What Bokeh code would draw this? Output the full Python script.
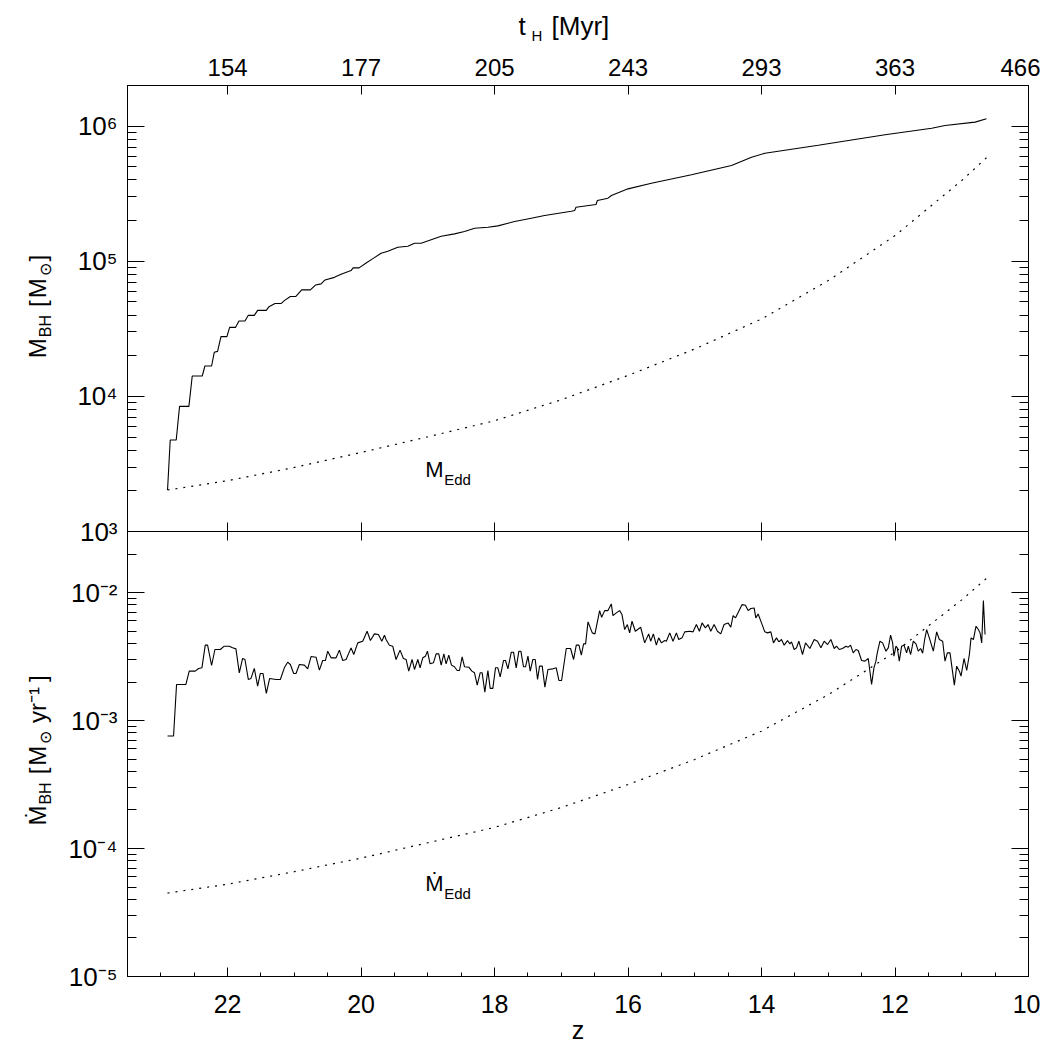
import numpy as np
from bokeh.plotting import figure
from bokeh.models import Range1d, FixedTicker, LogAxis, LinearAxis, CustomJSTickFormatter
from bokeh.layouts import row, column
from bokeh.core.properties import value
from bokeh.embed import file_html
from bokeh.resources import INLINE

FONT = "Liberation Sans"

# ---------------- data ----------------
# Black-hole mass (top panel): redshift and log10(M_BH / Msun)
z_mbh = [22.90, 22.86, 22.77, 22.72, 22.58, 22.53, 22.38, 22.34, 22.24, 22.20,
         22.15, 22.10, 22.01, 21.97, 21.88, 21.83, 21.74, 21.69, 21.60, 21.55,
         21.42, 21.38, 21.29, 21.20, 21.15, 21.06, 20.98, 20.89, 20.76, 20.68,
         20.60, 20.54, 20.40, 20.30, 20.15, 20.12, 20.03, 19.93, 19.83, 19.70,
         19.60, 19.45, 19.30, 19.20, 19.10, 18.80, 18.60, 18.45, 18.30, 18.10,
         17.95, 17.70, 17.45, 17.25, 16.85, 16.80, 16.78, 16.48, 16.46, 16.30,
         16.25, 16.00, 15.65, 15.05, 14.45, 14.15, 13.95, 13.15, 12.15, 11.45,
         11.25, 10.80, 10.63]
log_mbh = [3.307, 3.677, 3.677, 3.926, 3.926, 4.151, 4.151, 4.225, 4.225, 4.326,
           4.333, 4.442, 4.442, 4.511, 4.511, 4.558, 4.558, 4.600, 4.600, 4.637,
           4.637, 4.664, 4.687, 4.687, 4.709, 4.739, 4.739, 4.788, 4.788, 4.825,
           4.833, 4.862, 4.881, 4.904, 4.931, 4.951, 4.951, 4.985, 5.018, 5.059,
           5.074, 5.104, 5.111, 5.133, 5.133, 5.185, 5.203, 5.220, 5.244, 5.252,
           5.262, 5.294, 5.319, 5.339, 5.370, 5.376, 5.400, 5.420, 5.450, 5.467,
           5.487, 5.536, 5.578, 5.640, 5.709, 5.770, 5.800, 5.859, 5.936, 5.985,
           6.005, 6.030, 6.055]

# Eddington-limited curves (dotted)
z_edd = [22.9, 22.0, 21.0, 20.0, 19.0, 18.0, 17.0, 16.0, 15.0, 14.0, 13.0, 12.0, 11.0, 10.63]
log_medd = [3.307, 3.376, 3.474, 3.585, 3.701, 3.820, 3.975, 4.155, 4.351, 4.573,
            4.857, 5.190, 5.598, 5.766]
log_mdot_edd = [-4.348, -4.279, -4.181, -4.075, -3.955, -3.835, -3.680, -3.500, -3.304,
                -3.082, -2.798, -2.465, -2.057, -1.889]

# Accretion rate (bottom panel): redshift and log10(Mdot / Msun yr^-1)
z_mdot = [
    22.90, 22.81, 22.765, 22.625, 22.575, 22.485, 22.435, 22.385, 22.335, 22.30,
    22.24, 22.19, 22.11, 22.05, 21.975, 21.925, 21.875, 21.825, 21.775, 21.74,
    21.69, 21.65, 21.60, 21.55, 21.51, 21.47, 21.42, 21.37, 21.275, 21.21,
    21.15, 21.10, 21.06, 21.01, 20.975, 20.925, 20.85, 20.80, 20.75, 20.675,
    20.625, 20.575, 20.535, 20.50, 20.45, 20.375, 20.325, 20.275, 20.225, 20.15,
    20.11, 20.05, 19.975, 19.91, 19.86, 19.80, 19.74, 19.69, 19.65,
    19.626, 19.576, 19.526, 19.476, 19.416, 19.366, 19.326, 19.286, 19.236, 19.20,
    19.15, 19.116, 19.076, 19.036, 19.006, 18.966, 18.916, 18.876, 18.836, 18.80,
    18.76, 18.726, 18.686, 18.646, 18.601, 18.56, 18.526, 18.486, 18.45, 18.386,
    18.34, 18.301, 18.26, 18.216, 18.186, 18.146, 18.10, 18.066, 18.026, 17.986,
    17.951, 17.916, 17.866, 17.836, 17.80, 17.75, 17.716, 17.676, 17.636, 17.606,
    17.566, 17.536, 17.50, 17.466, 17.426, 17.391, 17.356, 17.326, 17.286, 17.246,
    17.20, 17.126, 17.076, 17.036, 16.996, 16.926, 16.861, 16.816, 16.776, 16.736,
    16.70, 16.666, 16.636, 16.60, 16.536, 16.496, 16.426, 16.396, 16.35, 16.301,
    16.251, 16.226, 16.176, 16.126, 16.091, 16.051, 16.011, 15.976, 15.941, 15.891,
    15.811, 15.751, 15.691, 15.661, 15.621, 15.576, 15.541, 15.501, 15.451, 15.426,
    15.376, 15.326, 15.276, 15.241, 15.191, 15.151, 15.076, 15.026, 14.976, 14.931,
    14.891, 14.841, 14.801, 14.761, 14.711, 14.661, 14.611, 14.561, 14.501, 14.461,
    14.426, 14.391, 14.341, 14.291, 14.241, 14.201, 14.161, 14.111, 14.086, 14.051,
    14.001, 13.951, 13.911, 13.861, 13.821, 13.776, 13.741, 13.701, 13.661, 13.611,
    13.576, 13.551, 13.511, 13.476, 13.441, 13.386, 13.341, 13.276, 13.211, 13.161,
    13.111, 13.061, 13.011, 12.961, 12.911,
    12.876, 12.836, 12.786, 12.736, 12.701, 12.666, 12.626, 12.586, 12.551, 12.501,
    12.451, 12.401, 12.351, 12.316, 12.286, 12.266, 12.226, 12.186, 12.136, 12.101,
    12.066, 12.036, 12.016, 11.986, 11.966, 11.936, 11.901, 11.866, 11.826, 11.801,
    11.766, 11.726, 11.686, 11.651, 11.616, 11.586, 11.556, 11.526, 11.486, 11.426,
    11.376, 11.336, 11.286, 11.251, 11.216, 11.176, 11.146, 11.111, 11.076, 11.036,
    11.011, 10.966, 10.926, 10.886, 10.861, 10.826, 10.786, 10.751, 10.726, 10.701,
    10.676, 10.651]
log_mdot = [
    -3.121, -3.121, -2.718, -2.718, -2.614, -2.614, -2.593, -2.588, -2.411, -2.411,
    -2.570, -2.445, -2.445, -2.419, -2.419, -2.432, -2.440, -2.627, -2.515, -2.523,
    -2.679, -2.671, -2.593, -2.731, -2.632, -2.632, -2.788, -2.671, -2.679, -2.679,
    -2.588, -2.544, -2.562, -2.632, -2.632, -2.562, -2.567, -2.596, -2.500, -2.505,
    -2.606, -2.531, -2.531, -2.458, -2.510, -2.510, -2.450, -2.531, -2.523, -2.432,
    -2.484, -2.393, -2.380, -2.302, -2.375, -2.323, -2.328, -2.380, -2.333,
    -2.367, -2.411, -2.419, -2.523, -2.450, -2.515, -2.523, -2.614, -2.523, -2.601,
    -2.523, -2.588, -2.510, -2.497, -2.458, -2.557, -2.549, -2.479, -2.479, -2.567,
    -2.479, -2.557, -2.489, -2.567, -2.580, -2.609, -2.609, -2.502, -2.580, -2.583,
    -2.614, -2.627, -2.723, -2.627, -2.627, -2.778, -2.609, -2.749, -2.749, -2.588,
    -2.588, -2.658, -2.531, -2.531, -2.596, -2.466, -2.466, -2.588, -2.458, -2.458,
    -2.580, -2.580, -2.497, -2.614, -2.523, -2.523, -2.679, -2.575, -2.575, -2.739,
    -2.601, -2.596, -2.588, -2.687, -2.687, -2.437, -2.437, -2.523, -2.411, -2.411,
    -2.489, -2.401, -2.401, -2.229, -2.315, -2.323, -2.141, -2.193, -2.141, -2.141,
    -2.089, -2.180, -2.159, -2.141, -2.172, -2.289, -2.250, -2.315, -2.224, -2.302,
    -2.271, -2.393, -2.323, -2.380, -2.323, -2.411, -2.354, -2.393, -2.375, -2.380,
    -2.315, -2.380, -2.315, -2.367, -2.354, -2.307, -2.302, -2.307, -2.250, -2.302,
    -2.237, -2.276, -2.250, -2.302, -2.250, -2.302, -2.323, -2.250, -2.237, -2.271,
    -2.180, -2.198, -2.146, -2.094, -2.099, -2.141, -2.125, -2.120, -2.198, -2.167,
    -2.237, -2.307, -2.315, -2.307, -2.393, -2.354, -2.385, -2.367, -2.411, -2.375,
    -2.401, -2.385, -2.445, -2.432, -2.380, -2.484, -2.393, -2.437, -2.367, -2.380,
    -2.432, -2.380, -2.406, -2.367, -2.437,
    -2.419, -2.445, -2.437, -2.419, -2.427, -2.411, -2.471, -2.445, -2.453, -2.531,
    -2.536, -2.515, -2.718, -2.588, -2.536, -2.471, -2.380, -2.393, -2.458, -2.432,
    -2.333, -2.393, -2.497, -2.419, -2.432, -2.536, -2.419, -2.411, -2.471, -2.419,
    -2.484, -2.380, -2.401, -2.458, -2.437, -2.474, -2.367, -2.289, -2.354, -2.458,
    -2.307, -2.367, -2.380, -2.536, -2.471, -2.471, -2.588, -2.723, -2.575, -2.614,
    -2.653, -2.515, -2.609, -2.484, -2.354, -2.367, -2.263, -2.289, -2.315, -2.393,
    -2.063, -2.328]
assert len(z_mdot) == len(log_mdot)
assert len(z_mbh) == len(log_mbh)

# ticks and tick labels
z_ticks = [22, 20, 18, 16, 14, 12, 10]
z_minor = [23.0, 22.5, 21.5, 21.0, 20.5, 19.5, 19.0, 18.5, 17.5, 17.0, 16.5, 15.5,
           15.0, 14.5, 13.5, 13.0, 12.5, 11.5, 11.0, 10.5]
t_labels = ["154", "177", "205", "243", "293", "363", "466"]
m_major = [1e3, 1e4, 1e5, 1e6]
m_minor = [k * 10.0 ** e for e in (3, 4, 5, 6) for k in range(2, 10)]
md_major = [1e-5, 1e-4, 1e-3, 1e-2]
md_minor = [k * 10.0 ** e for e in (-5, -4, -3, -2) for k in range(2, 10)]

# ---------------- helpers ----------------
log_fmt = CustomJSTickFormatter(code="""
const sup = {"-": "\u207b", "0": "\u2070", "1": "\u00b9", "2": "\u00b2", "3": "\u00b3",
             "4": "\u2074", "5": "\u2075", "6": "\u2076", "7": "\u2077", "8": "\u2078", "9": "\u2079"};
const e = Math.round(Math.log10(tick));
return "10" + String(e).split("").map(c => sup[c]).join("");
""")
th_fmt = CustomJSTickFormatter(args=dict(zt=z_ticks, lab=t_labels), code="""
for (let i = 0; i < zt.length; i++) { if (Math.abs(zt[i] - tick) < 1e-6) return lab[i]; }
return "";
""")
blank_fmt = CustomJSTickFormatter(code='return "";')

# glyph texts come out ~0.42 em below their alphabetic anchor: compensate
BSHIFT = 0.42


def style_axis(ax, major_in, minor_in, label_size=None, standoff=0):
    ax.major_tick_in = major_in
    ax.major_tick_out = 0
    ax.minor_tick_in = minor_in
    ax.minor_tick_out = 0
    ax.axis_line_color = "black"
    ax.major_tick_line_color = "black"
    ax.minor_tick_line_color = "black"
    ax.major_label_text_font = FONT
    ax.major_label_text_color = "black"
    if label_size is None:
        ax.formatter = blank_fmt
        ax.major_label_text_font_size = "10px"
        ax.major_label_standoff = 0
    else:
        ax.major_label_text_font_size = f"{label_size}px"
        ax.major_label_standoff = standoff
    return ax


def clean(p):
    p.grid.visible = False
    p.outline_line_color = "black"
    p.outline_line_width = 1
    p.background_fill_color = None
    p.border_fill_color = None


def htext(fig, x, y, txt, size, dx=0, dy=0):
    fig.text(x=[x], y=[y], text=[txt], x_offset=dx, y_offset=dy - BSHIFT * size,
             text_font=value(FONT), text_font_size=f"{size}px", text_align="left",
             text_baseline="alphabetic", text_color="black")


x_range = Range1d(23.5, 10.0)
LW = 60          # width of the strip holding the rotated y labels
PW = 980         # width of each panel
BL, BR = 67, 12  # panel borders (frame spans x = 127 .. 1028)
TH = 46          # height of the strip holding the top title

# ---------------- top panel ----------------
p1 = figure(width=PW, height=501, x_range=x_range, y_range=Range1d(1e3, 2e6),
            y_axis_type="log", title=None, toolbar_location=None, output_backend="svg",
            min_border_left=BL, min_border_right=BR, min_border_top=39, min_border_bottom=16)
clean(p1)
ax = p1.xaxis[0]
ax.ticker = FixedTicker(ticks=z_ticks, minor_ticks=[])
style_axis(ax, 9, 0)
ay = p1.yaxis[0]
ay.ticker = FixedTicker(ticks=m_major, minor_ticks=m_minor)
ay.formatter = log_fmt
style_axis(ay, 17, 9, 26, 10)
top_ax = LinearAxis(ticker=FixedTicker(ticks=z_ticks, minor_ticks=[]), formatter=th_fmt)
style_axis(top_ax, 9, 0, 24, 10)
p1.add_layout(top_ax, "above")
r_ax = LogAxis(ticker=FixedTicker(ticks=m_major, minor_ticks=m_minor))
style_axis(r_ax, 17, 9)
p1.add_layout(r_ax, "right")

p1.line(z_mbh, np.power(10.0, log_mbh), line_color="black", line_width=1.1)
p1.line(z_edd, np.power(10.0, log_medd), line_color="black", line_width=1.2, line_dash="2 6")

lab_z = 19.04
medd_lab = 10 ** 3.39
htext(p1, lab_z, medd_lab, "M", 22)
htext(p1, lab_z, medd_lab, "Edd", 15, dx=19, dy=7)

# ---------------- bottom panel ----------------
p2 = figure(width=PW, height=535, x_range=x_range, y_range=Range1d(1e-5, 3e-2),
            y_axis_type="log", title=None, toolbar_location=None, output_backend="svg",
            min_border_left=BL, min_border_right=BR, min_border_top=16, min_border_bottom=74)
# pull the lower panel up so that both frames share one edge
p2.styles = {"transform": "translateY(-32px)", "margin-bottom": "-32px"}
clean(p2)
bx = p2.xaxis[0]
bx.ticker = FixedTicker(ticks=z_ticks, minor_ticks=z_minor)
style_axis(bx, 9, 4, 25, 18)
bx.axis_label = "z"
bx.axis_label_text_font = FONT
bx.axis_label_text_font_size = "25px"
bx.axis_label_text_font_style = "normal"
bx.axis_label_text_color = "black"
bx.axis_label_standoff = 0
by = p2.yaxis[0]
by.ticker = FixedTicker(ticks=md_major, minor_ticks=md_minor)
by.formatter = log_fmt
style_axis(by, 17, 9, 26, 10)
t2 = LinearAxis(ticker=FixedTicker(ticks=z_ticks, minor_ticks=[]))
style_axis(t2, 9, 0)
p2.add_layout(t2, "above")
r2 = LogAxis(ticker=FixedTicker(ticks=md_major, minor_ticks=md_minor))
style_axis(r2, 17, 9)
p2.add_layout(r2, "right")

p2.line(z_mdot, np.power(10.0, log_mdot), line_color="black", line_width=1.1)
p2.line(z_edd, np.power(10.0, log_mdot_edd), line_color="black", line_width=1.2, line_dash="2 6")

mdedd_lab = 10 ** -4.346
htext(p2, lab_z, mdedd_lab, "\u1e40", 22)
htext(p2, lab_z, mdedd_lab, "Edd", 15, dx=19, dy=7)

# ---------------- label strips (rotated y labels, top title) ----------------
CW = {"M": 0.833, "\u1e40": 0.833, "B": 0.667, "H": 0.722, "[": 0.278, "]": 0.278,
      "\u2299": 0.80, "y": 0.5, "r": 0.333, "\u207b": 0.45, "\u00b9": 0.333, "t": 0.278}


def tw(s, size):
    return sum(CW.get(c, 0.6) for c in s) * size


LH = 1050
L = figure(width=LW, height=LH, x_range=Range1d(0, LW), y_range=Range1d(0, LH),
           title=None, toolbar_location=None, output_backend="svg", min_border=0,
           x_axis_location=None, y_axis_location=None)
L.outline_line_color = None
L.grid.visible = False
L.background_fill_color = None
L.border_fill_color = None


def vlabel(fig, pieces, xbase, ycenter):
    # pieces: (text, font size, shift towards the baseline side, gap before)
    total = sum(tw(t, s) + g for t, s, _, g in pieces)
    y = ycenter - total / 2
    for t, s, sh, g in pieces:
        y += g
        fig.text(x=[xbase + sh - BSHIFT * s], y=[y], text=[t], angle=np.pi / 2,
                 text_font=value(FONT), text_font_size=f"{s}px", text_align="left",
                 text_baseline="alphabetic", text_color="black")
        y += tw(t, s)


F, f = 24, 16
vlabel(L, [("M", F, 0, 0), ("BH", f, 5, 1), ("[", F, 0, 8), ("M", F, 0, 2),
           ("\u2299", f, 5, 2), ("]", F, 0, 2)], 47, LH - 306)
vlabel(L, [("\u1e40", F, 0, 0), ("BH", f, 5, 1), ("[", F, 0, 8), ("M", F, 0, 2),
           ("\u2299", f, 5, 2), ("yr\u207b\u00b9", F, 0, 8), ("]", F, 0, 2)], 47, LH - 750)

T = figure(width=PW, height=TH, x_range=Range1d(127, 1028), y_range=Range1d(0, TH),
           title=None, toolbar_location=None, output_backend="svg",
           min_border_left=BL, min_border_right=BR, min_border_top=0, min_border_bottom=0,
           x_axis_location=None, y_axis_location=None)
T.outline_line_color = None
T.grid.visible = False
T.background_fill_color = None
T.border_fill_color = None
htext(T, 518, TH - 36, "t", 26)
htext(T, 531, TH - 41, "H", 15)
htext(T, 551, TH - 36, "[Myr]", 26)

layout = row(L, column(T, p1, p2))
open("out.html", "w", encoding="utf-8").write(file_html(layout, INLINE))
